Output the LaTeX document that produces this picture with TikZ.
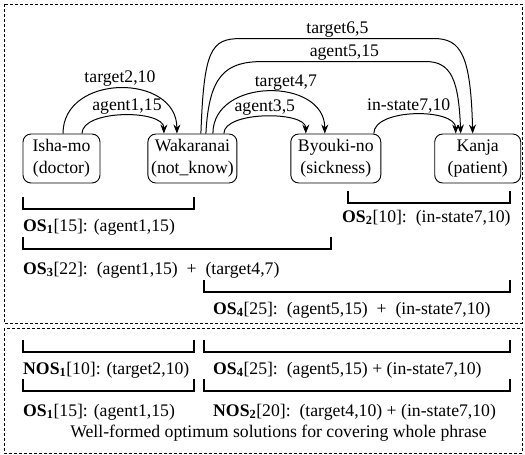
\documentclass[tikz,border=0pt]{standalone}
\usepackage{fontspec}
\setmainfont{Liberation Serif}
\usepackage{tikz}
\usetikzlibrary{positioning,arrows.meta}
% bracket under a span of words: x-left, x-right, y of the bar
\newcommand{\spanbar}[3]{\draw[line width=1.6pt] (#1,-#3+12) -- (#1,-#3) -- (#2,-#3) -- (#2,-#3+12);}

\begin{document}
\begin{tikzpicture}[x=1pt, y=1pt, font=\fontsize{17.7}{22}\selectfont,
    word/.style={draw, line width=0.9pt, rounded corners=8pt, align=center, minimum height=49pt, inner sep=1pt},
    rel/.style={-{Stealth[length=9pt,width=7pt]}, line width=1pt},
    rellab/.style={inner sep=1pt},
    sol/.style={anchor=west, inner sep=0pt}]
    \useasboundingbox (0,0) rectangle (525,-455);
    % the two frames
    \draw[densely dashed, line width=0.6pt] (4,-4) rectangle (522,-323);
    \draw[densely dashed, line width=0.6pt] (4,-328) rectangle (522,-453);

    \node[word, minimum width=77pt] (isha) at (61.5,-158.5) {Isha-mo\\(doctor)};
    \node[word, minimum width=89pt, right=47pt of isha] (wak) {Wakaranai\\(not\_know)};
    \node[word, minimum width=90pt, right=53pt of wak] (byo) {Byouki-no\\(sickness)};
    \node[word, minimum width=86pt, right=53pt of byo] (kan) {Kanja\\(patient)};

    % relations
    \draw[rel] ([xshift=1.5pt]isha.north) to[out=90, in=90, looseness=1.36] node[rellab, above] {target2,10} ([xshift=-15.5pt]wak.north);
    \draw[rel] ([xshift=20.5pt]isha.north) to[out=90, in=90, looseness=0.76] node[rellab, above, xshift=4pt] {agent1,15} ([xshift=-28.5pt]wak.north);
    \draw[rel] ([xshift=20.5pt]wak.north) to[out=90, in=90, looseness=1.29] node[rellab, above, xshift=17pt] {target4,7} ([xshift=-11pt]byo.north);
    \draw[rel] ([xshift=31.5pt]wak.north) to[out=90, in=90, looseness=0.71] node[rellab, above] {agent3,5} ([xshift=-30pt]byo.north);
    \draw[rel] ([xshift=38pt]byo.north) to[out=90, in=90, looseness=0.8] node[rellab, above, xshift=-6pt] {in-state7,10} ([xshift=-22pt]kan.north);
    \draw[rel] ([xshift=13.5pt]wak.north) .. controls +(3,59) and +(-37,0) .. ++(57,72)
        -- node[rellab, above] {agent5,15} ++(163,0)
        .. controls +(25,0) and +(-2,54) .. ([xshift=-17pt]kan.north);
    \draw[rel] ([xshift=8.5pt]wak.north) .. controls +(3,84) and +(-30,0) .. ++(40,95)
        -- node[rellab, above] {target6,5} ++(193,0)
        .. controls +(27,0) and +(-2,79) .. ([xshift=-5pt]kan.north);

    % optimum solutions
    \spanbar{23}{194}{209}
    \node[sol] (os1) at (23,-227) {\textbf{OS\textsubscript{1}}[15]: (agent1,15)};
    \spanbar{348}{510}{203}
    \node[sol] (os2) at (342,-218) {\textbf{OS\textsubscript{2}}[10]:\ \ (in-state7,10)};
    \spanbar{23}{331}{249}
    \node[sol] (os3) at (23,-270) {\textbf{OS\textsubscript{3}}[22]:\ \ (agent1,15)\ \ +\ \ (target4,7)};
    \spanbar{204}{510}{292}
    \node[sol] (os4) at (213,-310) {\textbf{OS\textsubscript{4}}[25]:\ \ (agent5,15)\ \ +\ \ (in-state7,10)};

    % whole phrase
    \spanbar{23}{194}{352}
    \node[sol] (nos1) at (23,-370) {\textbf{NOS\textsubscript{1}}[10]: (target2,10)};
    \spanbar{204}{510}{352}
    \node[sol] (os4b) at (213,-370) {\textbf{OS\textsubscript{4}}[25]:\ \ (agent5,15) + (in-state7,10)};
    \spanbar{23}{194}{391}
    \node[sol] (os1b) at (23,-412) {\textbf{OS\textsubscript{1}}[15]: (agent1,15)};
    \spanbar{204}{510}{391}
    \node[sol] (nos2) at (213,-412) {\textbf{NOS\textsubscript{2}}[20]:\ \ (target4,10) + (in-state7,10)};
    \node (cap) at (278.5,-433) {Well-formed optimum solutions for covering whole phrase};
\end{tikzpicture}
\end{document}
